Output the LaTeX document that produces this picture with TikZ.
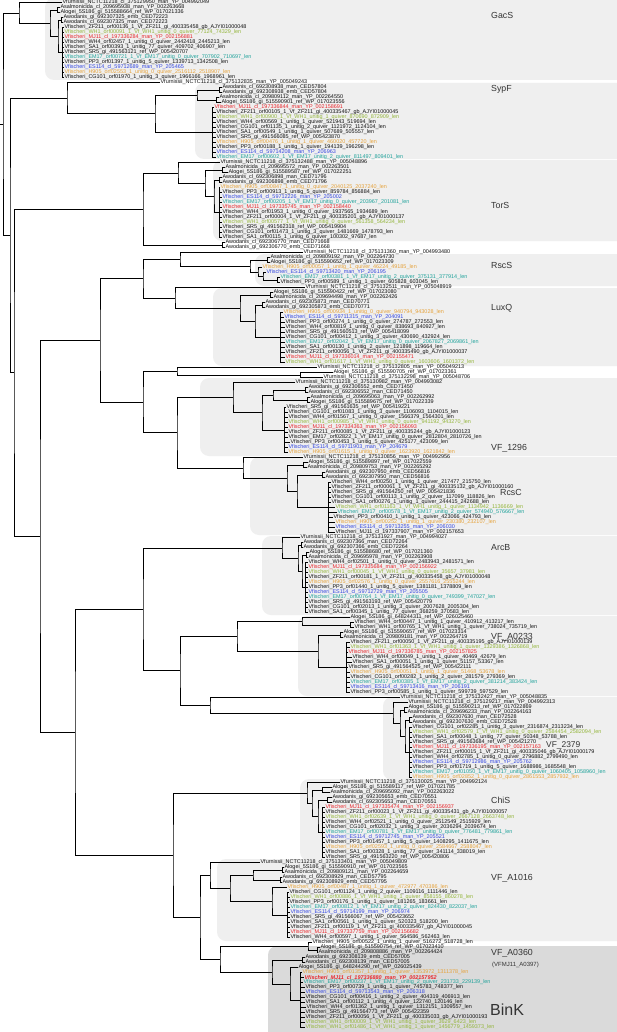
\documentclass[tikz,border=0pt]{standalone}
\usepackage{fontspec}
\usetikzlibrary{calc}
\newfontfamily\lsans{Liberation Sans}
\definecolor{cG}{HTML}{93B53A}
\definecolor{cR}{HTML}{E8262B}
\definecolor{cT}{HTML}{1FA29A}
\definecolor{cB}{HTML}{3346E0}
\definecolor{cO}{HTML}{E6A23A}
\definecolor{cK}{HTML}{111111}
\definecolor{boxl}{HTML}{EFEFEF}
\definecolor{boxd}{HTML}{DADADA}
\definecolor{labc}{HTML}{333333}
\tikzset{
  leaf/.style={anchor=west,inner sep=0.4pt,font=\lsans\fontsize{5.45}{5.6}\selectfont},
  br/.style={line width=0.5pt,draw=black},
  clab/.style={anchor=west,inner sep=0pt,text=labc,font=\lsans\fontsize{8.8}{9}\selectfont},
  cbox/.style={fill=boxl,rounded corners=9pt}
}
\newcommand\lf[4]{\node[leaf,text=#3] (L#1) at (#2,{-2.5-5*#1}) {#4};}
\newcommand\nd[4]{\path let \p1=(#3),\p2=(#4) in coordinate (#1) at (#2,{0.5*(\y1+\y2)});
  \draw[br] (#3) -| (#1) |- (#4);}
\newcommand\grp[4]{\path let \p1=(L#3),\p2=(L#4) in coordinate (#1) at (#2,{0.5*(\y1+\y2)});
  \foreach \i in {#3,...,#4}{\draw[br] (#1) |- (L\i.west);}}
\begin{document}
\catcode`\_=12
\begin{tikzpicture}[x=1pt,y=1pt]
\useasboundingbox (0,0) rectangle (617,-1032);
\clip (0,0) rectangle (617,-1032);
\fill[white] (0,0) rectangle (617,-1032);
% clade boxes
\fill[cbox] (45,2) rectangle (640,-80);
\fill[cbox] (195,-83) rectangle (640,-159);
\fill[cbox] (213,-160) rectangle (640,-241);
\fill[cbox] (255,-254) rectangle (640,-286);
\fill[cbox] (213,-288) rectangle (640,-366);
\fill[cbox] (200,-378) rectangle (640,-456);
\fill[cbox] (250,-457) rectangle (640,-535);
\fill[cbox] (262,-536) rectangle (640,-615);
\fill[cbox] (298,-616) rectangle (640,-696);
\fill[cbox] (383,-697) rectangle (640,-780);
\fill[cbox] (300,-779) rectangle (640,-861);
\fill[cbox] (217,-859) rectangle (640,-941);
\fill[fill=boxd,rounded corners=9pt] (268,-946) rectangle (640,-1040);
% labels
\node[clab] (tGacS) at (491,-15) {GacS};
\node[clab] (tSypF) at (491,-89) {SypF};
\node[clab] (tTorS) at (491,-205) {TorS};
\node[clab] (tRscS) at (491,-265) {RscS};
\node[clab] (tLuxQ) at (491,-308) {LuxQ};
\node[clab] (tV1296) at (491,-448) {VF_1296};
\node[clab] (tRcsC) at (500,-492.5) {RcsC};
\node[clab] (tArcB) at (491,-548) {ArcB};
\node[clab] (tVA0233) at (491,-637.5) {VF_A0233};
\node[clab,font=\lsans\fontsize{8.4}{9}\selectfont] (tV2379) at (546,-745) {VF_2379};
\node[clab] (tChiS) at (491,-800) {ChiS};
\node[clab] (tVA1016) at (491,-878) {VF_A1016};
\node[clab] (tVA0360) at (491,-953) {VF_A0360};
\node[clab,font=\lsans\fontsize{6}{7}\selectfont] (tVFMJ) at (492,-965) {(VFMJ11_A0397)};
\node[clab,font=\lsans\fontsize{16}{18}\selectfont] (tBinK) at (490,-1010) {BinK};
% leaves
\lf{0}{62}{cK}{Vfurnissii_NCTC11218_cl_375129950_man_YP_004992049}
\lf{1}{60}{cK}{Asalmonicida_cl_209695938_man_YP_002263668}
\lf{2}{60}{cK}{Alogei_5S186_gi_515588664_ref_WP_017021336}
\lf{3}{63}{cK}{Awodanis_gi_692307325_emb_CED72223}
\lf{4}{63}{cK}{Awodanis_cl_692307325_man_CED72223}
\lf{5}{64}{cK}{Vfischeri_ZF211_orf00136_1_Vf_ZF211_gi_400335458_gb_AJYI01000048}
\lf{6}{64}{cG}{Vfischeri_WH1_orf00091_1_Vf_WH1_unitig_0_quiver_77124_74329_len}
\lf{7}{64}{cR}{Vfischeri_MJ11_cl_197336284_man_YP_002156881}
\lf{8}{64}{cK}{Vfischeri_WH4_orf02457_1_unitig_0_quiver_2442418_2445213_len}
\lf{9}{64}{cK}{Vfischeri_SA1_orf00393_1_unitig_77_quiver_409702_406907_len}
\lf{10}{64}{cK}{Vfischeri_SR5_gi_491563121_ref_WP_005420707}
\lf{11}{64}{cT}{Vfischeri_EM17_orf00721_1_Vf_EM17_unitig_0_quiver_707902_710697_len}
\lf{12}{64}{cK}{Vfischeri_PP3_orf01397_1_unitig_5_quiver_1339713_1342508_len}
\lf{13}{64}{cB}{Vfischeri_ES114_cl_59712689_man_YP_205465}
\lf{14}{64}{cO}{Vfischeri_H905_orf02553_1_unitig_0_quiver_2516112_2518907_len}
\lf{15}{64}{cK}{Vfischeri_CG101_orf01970_1_unitig_3_quiver_1966166_1968961_len}
\lf{16}{160}{cK}{Vfurnissii_NCTC11218_cl_375132835_man_YP_005049243}
\lf{17}{222}{cK}{Awodanis_cl_692308938_man_CED57804}
\lf{18}{222}{cK}{Awodanis_gi_692308938_emb_CED57804}
\lf{19}{219}{cK}{Asalmonicida_cl_209809112_man_YP_002264550}
\lf{20}{221}{cK}{Alogei_5S186_gi_515590901_ref_WP_017023556}
\lf{21}{214}{cR}{Vfischeri_MJ11_cl_197336844_man_YP_002158691}
\lf{22}{216}{cK}{Vfischeri_ZF211_orf00105_1_Vf_ZF211_gi_400335467_gb_AJYI01000045}
\lf{23}{216}{cG}{Vfischeri_WH1_orf00900_1_Vf_WH1_unitig_1_quiver_870690_872909_len}
\lf{24}{216}{cK}{Vfischeri_WH4_orf00569_1_unitig_1_quiver_521943_519694_len}
\lf{25}{216}{cK}{Vfischeri_CG101_orf01135_1_unitig_2_quiver_1121972_1124104_len}
\lf{26}{216}{cK}{Vfischeri_SA1_orf00549_1_unitig_1_quiver_507689_505557_len}
\lf{27}{216}{cK}{Vfischeri_SR5_gi_491566085_ref_WP_005423870}
\lf{28}{216}{cO}{Vfischeri_H905_orf00476_1_unitig_1_quiver_460020_457720_len}
\lf{29}{216}{cK}{Vfischeri_PP3_orf00188_1_unitig_1_quiver_194139_196298_len}
\lf{30}{216}{cB}{Vfischeri_ES114_cl_59714208_man_YP_206963}
\lf{31}{216}{cT}{Vfischeri_EM17_orf00602_1_Vf_EM17_unitig_2_quiver_811497_809401_len}
\lf{32}{220}{cK}{Vfurnissii_NCTC11218_cl_375132488_man_YP_005048896}
\lf{33}{225}{cK}{Asalmonicida_cl_209695572_man_YP_002263501}
\lf{34}{228}{cK}{Alogei_5S186_gi_515589587_ref_WP_017022251}
\lf{35}{222}{cK}{Awodanis_cl_692306898_man_CED71796}
\lf{36}{222}{cK}{Awodanis_gi_692306898_emb_CED71796}
\lf{37}{220}{cO}{Vfischeri_H905_orf00847_1_unitig_0_quiver_2040125_2037240_len}
\lf{38}{222}{cK}{Vfischeri_PP3_orf00913_1_unitig_5_quiver_859784_856884_len}
\lf{39}{222}{cB}{Vfischeri_ES114_cl_59712226_man_YP_205002}
\lf{40}{222}{cT}{Vfischeri_EM17_orf00205_1_Vf_EM17_unitig_0_quiver_203967_201081_len}
\lf{41}{222}{cR}{Vfischeri_MJ11_cl_197335745_man_YP_002158440}
\lf{42}{222}{cK}{Vfischeri_WH4_orf01953_1_unitig_0_quiver_1937565_1934689_len}
\lf{43}{222}{cK}{Vfischeri_ZF211_orf00004_1_Vf_ZF211_gi_400335201_gb_AJYI01000137}
\lf{44}{222}{cG}{Vfischeri_WH1_orf00577_1_Vf_WH1_unitig_0_quiver_561358_564234_len}
\lf{45}{222}{cK}{Vfischeri_SR5_gi_491562318_ref_WP_005419904}
\lf{46}{222}{cK}{Vfischeri_CG101_orf01473_1_unitig_3_quiver_1481669_1478793_len}
\lf{47}{222}{cK}{Vfischeri_SA1_orf00115_1_unitig_6_quiver_100302_97687_len}
\lf{48}{225}{cK}{Awodanis_cl_692306770_man_CED71668}
\lf{49}{225}{cK}{Awodanis_gi_692306770_emb_CED71668}
\lf{50}{303}{cK}{Vfurnissii_NCTC11218_cl_375131360_man_YP_004993480}
\lf{51}{270}{cK}{Asalmonicida_cl_209809192_man_YP_002264730}
\lf{52}{270}{cK}{Alogei_5S186_gi_515590652_ref_WP_017023309}
\lf{53}{262}{cO}{Vfischeri_H905_orf00057_1_unitig_1_quiver_46224_49185_len}
\lf{54}{266}{cB}{Vfischeri_ES114_cl_59713420_man_YP_206195}
\lf{55}{280}{cT}{Vfischeri_EM17_orf00381_1_Vf_EM17_unitig_2_quiver_375131_377914_len}
\lf{56}{280}{cK}{Vfischeri_PP3_orf00589_1_unitig_1_quiver_605828_603045_len}
\lf{57}{305}{cK}{Vfurnissii_NCTC11218_cl_375132511_man_YP_005048919}
\lf{58}{273}{cK}{Alogei_5S186_gi_515590422_ref_WP_017023080}
\lf{59}{273}{cK}{Asalmonicida_cl_209694498_man_YP_002262426}
\lf{60}{265}{cK}{Awodanis_cl_692305873_man_CED70771}
\lf{61}{265}{cK}{Awodanis_gi_692305873_emb_CED70771}
\lf{62}{283}{cO}{Vfischeri_H905_orf00934_1_unitig_0_quiver_940794_943028_len}
\lf{63}{284}{cB}{Vfischeri_ES114_cl_59711315_man_YP_204091}
\lf{64}{285}{cK}{Vfischeri_PP3_orf00274_1_unitig_0_quiver_274787_272553_len}
\lf{65}{285}{cK}{Vfischeri_WH4_orf00819_1_unitig_0_quiver_838693_840927_len}
\lf{66}{285}{cK}{Vfischeri_SR5_gi_491560513_ref_WP_005418099}
\lf{67}{285}{cK}{Vfischeri_CG101_orf00412_1_unitig_3_quiver_430690_432924_len}
\lf{68}{285}{cT}{Vfischeri_EM17_orf02042_1_Vf_EM17_unitig_0_quiver_2067827_2069861_len}
\lf{69}{285}{cK}{Vfischeri_SA1_orf00130_1_unitig_2_quiver_121898_119664_len}
\lf{70}{285}{cK}{Vfischeri_ZF211_orf00056_1_Vf_ZF211_gi_400335490_gb_AJYI01000037}
\lf{71}{285}{cR}{Vfischeri_MJ11_cl_197336014_man_YP_002155471}
\lf{72}{285}{cG}{Vfischeri_WH1_orf01617_1_Vf_WH1_unitig_0_quiver_1603606_1601372_len}
\lf{73}{317}{cK}{Vfurnissii_NCTC11218_cl_375132805_man_YP_005049213}
\lf{74}{333}{cK}{Alogei_5S186_gi_515590705_ref_WP_017023361}
\lf{75}{323}{cK}{Vfurnissii_NCTC11218_cl_375132298_man_YP_005048706}
\lf{76}{295}{cK}{Vfurnissii_NCTC11218_cl_375130982_man_YP_004993082}
\lf{77}{308}{cK}{Awodanis_gi_692306552_emb_CED71450}
\lf{78}{308}{cK}{Awodanis_cl_692306552_man_CED71450}
\lf{79}{310}{cK}{Asalmonicida_cl_209695063_man_YP_002262992}
\lf{80}{310}{cK}{Alogei_5S186_gi_515589675_ref_WP_017022339}
\lf{81}{286}{cK}{Vfischeri_SR5_gi_491561635_ref_WP_005419221}
\lf{82}{288}{cK}{Vfischeri_CG101_orf01083_1_unitig_3_quiver_1106093_1104015_len}
\lf{83}{288}{cK}{Vfischeri_WH4_orf01567_1_unitig_0_quiver_1566379_1564301_len}
\lf{84}{288}{cG}{Vfischeri_WH1_orf00985_1_Vf_WH1_unitig_0_quiver_941192_943270_len}
\lf{85}{288}{cR}{Vfischeri_MJ11_cl_197334363_man_YP_002156093}
\lf{86}{288}{cK}{Vfischeri_ZF211_orf00085_1_Vf_ZF211_gi_400335244_gb_AJYI01000123}
\lf{87}{288}{cK}{Vfischeri_EM17_orf02822_1_Vf_EM17_unitig_0_quiver_2812804_2810726_len}
\lf{88}{290}{cK}{Vfischeri_PP3_orf00453_1_unitig_5_quiver_425177_423099_len}
\lf{89}{288}{cB}{Vfischeri_ES114_cl_59711903_man_YP_204679}
\lf{90}{288}{cO}{Vfischeri_H905_orf01615_1_unitig_0_quiver_1623920_1621842_len}
\lf{91}{303}{cK}{Vfurnissii_NCTC11218_cl_375130856_man_YP_004992956}
\lf{92}{308}{cK}{Alogei_5S186_gi_515589897_ref_WP_017022559}
\lf{93}{307}{cK}{Asalmonicida_cl_209809753_man_YP_002265292}
\lf{94}{325}{cK}{Awodanis_gi_692307950_emb_CED56816}
\lf{95}{325}{cK}{Awodanis_cl_692307950_man_CED56816}
\lf{96}{331}{cK}{Vfischeri_WH4_orf00250_1_unitig_1_quiver_217477_215750_len}
\lf{97}{331}{cK}{Vfischeri_ZF211_orf00061_1_Vf_ZF211_gi_400335132_gb_AJYI01000160}
\lf{98}{331}{cK}{Vfischeri_SR5_gi_491564250_ref_WP_005421836}
\lf{99}{331}{cK}{Vfischeri_CG101_orf00113_1_unitig_2_quiver_117099_118826_len}
\lf{100}{331}{cK}{Vfischeri_SA1_orf00276_1_unitig_1_quiver_244415_242688_len}
\lf{101}{335}{cG}{Vfischeri_WH1_orf01163_1_Vf_WH1_unitig_1_quiver_1134942_1136669_len}
\lf{102}{337}{cT}{Vfischeri_EM17_orf00578_1_Vf_EM17_unitig_2_quiver_574940_576667_len}
\lf{103}{333}{cK}{Vfischeri_PP3_orf00410_1_unitig_1_quiver_423066_424793_len}
\lf{104}{335}{cO}{Vfischeri_H905_orf00252_1_unitig_1_quiver_230380_232107_len}
\lf{105}{335}{cB}{Vfischeri_ES114_cl_59713255_man_YP_206030}
\lf{106}{335}{cK}{Vfischeri_MJ11_cl_197337907_man_YP_002157653}
\lf{107}{300}{cK}{Vfurnissii_NCTC11218_cl_375131927_man_YP_004994027}
\lf{108}{303}{cK}{Awodanis_cl_692307366_man_CED72264}
\lf{109}{303}{cK}{Awodanis_gi_692307366_emb_CED72264}
\lf{110}{309}{cK}{Alogei_5S186_gi_515588680_ref_WP_017021360}
\lf{111}{308}{cK}{Asalmonicida_cl_209695978_man_YP_002263908}
\lf{112}{308}{cK}{Vfischeri_WH4_orf02501_1_unitig_0_quiver_2483943_2481571_len}
\lf{113}{308}{cR}{Vfischeri_MJ11_cl_197335684_man_YP_002156922}
\lf{114}{308}{cG}{Vfischeri_WH1_orf00045_1_Vf_WH1_unitig_0_quiver_35657_37981_len}
\lf{115}{308}{cK}{Vfischeri_ZF211_orf00181_1_Vf_ZF211_gi_400335458_gb_AJYI01000048}
\lf{116}{308}{cO}{Vfischeri_H905_orf02576_1_unitig_0_quiver_2557616_2555244_len}
\lf{117}{308}{cK}{Vfischeri_PP3_orf01440_1_unitig_5_quiver_1381181_1378809_len}
\lf{118}{308}{cB}{Vfischeri_ES114_cl_59712729_man_YP_205505}
\lf{119}{308}{cT}{Vfischeri_EM17_orf00764_1_Vf_EM17_unitig_0_quiver_749399_747027_len}
\lf{120}{308}{cK}{Vfischeri_SR5_gi_491563193_ref_WP_005420779}
\lf{121}{308}{cK}{Vfischeri_CG101_orf02013_1_unitig_3_quiver_2007628_2005304_len}
\lf{122}{308}{cK}{Vfischeri_SA1_orf00345_1_unitig_77_quiver_368259_370583_len}
\lf{123}{350}{cK}{Alogei_5S186_gi_648244311_ref_WP_026025460}
\lf{124}{354}{cK}{Vfischeri_WH4_orf00447_1_unitig_1_quiver_410912_413217_len}
\lf{125}{354}{cK}{Vfischeri_WH1_orf00765_1_Vf_WH1_unitig_1_quiver_738024_735719_len}
\lf{126}{343}{cK}{Alogei_5S186_gi_515590657_ref_WP_017023314}
\lf{127}{343}{cK}{Asalmonicida_cl_209809181_man_YP_002264719}
\lf{128}{350}{cK}{Vfischeri_ZF211_orf00050_1_Vf_ZF211_gi_400335195_gb_AJYI01000139}
\lf{129}{350}{cG}{Vfischeri_WH1_orf01363_1_Vf_WH1_unitig_1_quiver_1329386_1326868_len}
\lf{130}{348}{cR}{Vfischeri_MJ11_cl_197336785_man_YP_002157825}
\lf{131}{352}{cK}{Vfischeri_WH4_orf00049_1_unitig_1_quiver_40469_42679_len}
\lf{132}{352}{cK}{Vfischeri_SA1_orf00051_1_unitig_1_quiver_51157_53367_len}
\lf{133}{348}{cK}{Vfischeri_SR5_gi_491564525_ref_WP_005422111}
\lf{134}{350}{cO}{Vfischeri_H905_orf00051_1_unitig_1_quiver_51468_53678_len}
\lf{135}{350}{cK}{Vfischeri_CG101_orf00282_1_unitig_2_quiver_281579_279369_len}
\lf{136}{350}{cT}{Vfischeri_EM17_orf00385_1_Vf_EM17_unitig_2_quiver_381214_383424_len}
\lf{137}{350}{cB}{Vfischeri_ES114_cl_59713416_man_YP_206191}
\lf{138}{350}{cK}{Vfischeri_PP3_orf00585_1_unitig_1_quiver_599739_597529_len}
\lf{139}{400}{cK}{Vfurnissii_NCTC11218_cl_375132427_man_YP_005048835}
\lf{140}{408}{cK}{Vfurnissii_NCTC11218_cl_375129217_man_YP_004992313}
\lf{141}{408}{cK}{Alogei_5S186_gi_515590213_ref_WP_017022869}
\lf{142}{407}{cK}{Asalmonicida_cl_209696233_man_YP_002264163}
\lf{143}{412}{cK}{Awodanis_cl_692307630_man_CED72528}
\lf{144}{412}{cK}{Awodanis_gi_692307630_emb_CED72528}
\lf{145}{412}{cK}{Vfischeri_CG101_orf02285_1_unitig_3_quiver_2316874_2313234_len}
\lf{146}{412}{cG}{Vfischeri_WH1_orf02579_1_Vf_WH1_unitig_0_quiver_2584454_2582094_len}
\lf{147}{412}{cK}{Vfischeri_SA1_orf00048_1_unitig_77_quiver_50348_53788_len}
\lf{148}{412}{cK}{Vfischeri_SR5_gi_491563684_ref_WP_005421270}
\lf{149}{412}{cR}{Vfischeri_MJ11_cl_197336195_man_YP_002157163}
\lf{150}{412}{cK}{Vfischeri_ZF211_orf00015_1_Vf_ZF211_gi_400335046_gb_AJYI01000179}
\lf{151}{412}{cK}{Vfischeri_WH4_orf02785_1_unitig_0_quiver_2796882_2799490_len}
\lf{152}{412}{cB}{Vfischeri_ES114_cl_59712986_man_YP_205762}
\lf{153}{412}{cK}{Vfischeri_PP3_orf01719_1_unitig_5_quiver_1688986_1685548_len}
\lf{154}{412}{cT}{Vfischeri_EM17_orf01050_1_Vf_EM17_unitig_0_quiver_1060405_1058960_len}
\lf{155}{412}{cO}{Vfischeri_H905_orf02852_1_unitig_0_quiver_2861553_2857932_len}
\lf{156}{340}{cK}{Vfurnissii_NCTC11218_cl_375130025_man_YP_004992124}
\lf{157}{332}{cK}{Alogei_5S186_gi_515589117_ref_WP_017021785}
\lf{158}{330}{cK}{Asalmonicida_cl_209695092_man_YP_002263022}
\lf{159}{332}{cK}{Awodanis_gi_692305653_emb_CED70551}
\lf{160}{332}{cK}{Awodanis_cl_692305653_man_CED70551}
\lf{161}{325}{cR}{Vfischeri_MJ11_cl_197335474_man_YP_002156937}
\lf{162}{325}{cK}{Vfischeri_ZF211_orf00023_1_Vf_ZF211_gi_400335431_gb_AJYI01000057}
\lf{163}{325}{cG}{Vfischeri_WH1_orf02639_1_Vf_WH1_unitig_0_quiver_2667128_2663748_len}
\lf{164}{325}{cK}{Vfischeri_WH4_orf02521_1_unitig_0_quiver_2512549_2515929_len}
\lf{165}{325}{cK}{Vfischeri_CG101_orf02032_1_unitig_3_quiver_2036294_2039674_len}
\lf{166}{325}{cT}{Vfischeri_EM17_orf00781_1_Vf_EM17_unitig_0_quiver_776481_779861_len}
\lf{167}{325}{cB}{Vfischeri_ES114_cl_59712745_man_YP_205521}
\lf{168}{325}{cK}{Vfischeri_PP3_orf01457_1_unitig_5_quiver_1408295_1411675_len}
\lf{169}{325}{cO}{Vfischeri_H905_orf02593_1_unitig_0_quiver_2584667_2588047_len}
\lf{170}{325}{cK}{Vfischeri_SA1_orf00328_1_unitig_77_quiver_341114_338019_len}
\lf{171}{325}{cK}{Vfischeri_SR5_gi_491563220_ref_WP_005420806}
\lf{172}{260}{cK}{Vfurnissii_NCTC11218_cl_375133401_man_YP_005049809}
\lf{173}{284}{cK}{Alogei_5S186_gi_515590910_ref_WP_017023565}
\lf{174}{284}{cK}{Asalmonicida_cl_209809121_man_YP_002264659}
\lf{175}{282}{cK}{Awodanis_cl_692308929_man_CED57795}
\lf{176}{282}{cK}{Awodanis_gi_692308929_emb_CED57795}
\lf{177}{287}{cO}{Vfischeri_H905_orf00487_1_unitig_1_quiver_472977_470386_len}
\lf{178}{289}{cK}{Vfischeri_CG101_orf01124_1_unitig_2_quiver_1109116_1111446_len}
\lf{179}{290}{cG}{Vfischeri_WH1_orf00886_1_Vf_WH1_unitig_1_quiver_858155_860278_len}
\lf{180}{289}{cK}{Vfischeri_PP3_orf00176_1_unitig_1_quiver_181265_183661_len}
\lf{181}{290}{cT}{Vfischeri_EM17_orf00812_1_Vf_EM17_unitig_2_quiver_824430_822037_len}
\lf{182}{290}{cB}{Vfischeri_ES114_cl_59714199_man_YP_206974}
\lf{183}{290}{cK}{Vfischeri_SR5_gi_491566067_ref_WP_005423652}
\lf{184}{290}{cK}{Vfischeri_SA1_orf00561_1_unitig_1_quiver_520323_518200_len}
\lf{185}{290}{cK}{Vfischeri_ZF211_orf00119_1_Vf_ZF211_gi_400335467_gb_AJYI01000045}
\lf{186}{290}{cR}{Vfischeri_MJ11_cl_197337759_man_YP_002156682}
\lf{187}{290}{cK}{Vfischeri_WH4_orf00597_1_unitig_1_quiver_564586_562463_len}
\lf{188}{312}{cK}{Vfischeri_H905_orf00522_1_unitig_1_quiver_516272_518728_len}
\lf{189}{320}{cK}{Alogei_5S186_gi_515590754_ref_WP_017023410}
\lf{190}{318}{cK}{Asalmonicida_cl_209808886_man_YP_002264424}
\lf{191}{305}{cK}{Awodanis_gi_692308139_emb_CED57005}
\lf{192}{305}{cK}{Awodanis_cl_692308139_man_CED57005}
\lf{193}{298}{cK}{Alogei_5S186_gi_648244290_ref_WP_026025439}
\lf{194}{302}{cO}{Vfischeri_H905_orf01357_1_unitig_1_quiver_1353972_1311378_len}
\lf{195}{304}{cR}{\bfseries\itshape Vfischeri_MJ11_cl_197336880_man_YP_002157952}
\lf{196}{303}{cT}{Vfischeri_EM17_orf00237_1_Vf_EM17_unitig_2_quiver_231733_229139_len}
\lf{197}{305}{cK}{Vfischeri_PP3_orf00739_1_unitig_1_quiver_745783_748377_len}
\lf{198}{305}{cB}{Vfischeri_ES114_cl_59713543_man_YP_206318}
\lf{199}{305}{cK}{Vfischeri_CG101_orf00416_1_unitig_2_quiver_404319_406913_len}
\lf{200}{305}{cK}{Vfischeri_SA1_orf00112_1_unitig_4_quiver_122740_120146_len}
\lf{201}{306}{cK}{Vfischeri_WH4_orf01362_1_unitig_1_quiver_1312151_1309557_len}
\lf{202}{305}{cK}{Vfischeri_SR5_gi_491564773_ref_WP_005422359}
\lf{203}{305}{cK}{Vfischeri_ZF211_orf00056_1_Vf_ZF211_gi_400335033_gb_AJYI01000193}
\lf{204}{305}{cG}{Vfischeri_WH1_orf00009_1_Vf_WH1_unitig_1_quiver_3629_6423_len}
\lf{205}{305}{cG}{Vfischeri_WH1_orf01486_1_Vf_WH1_unitig_1_quiver_1456779_1459373_len}
% ---- tree ----
% GacS
\grp{gP}{57}{1}{2}
\grp{gD}{61}{3}{4}
\grp{gF}{62}{5}{15}
\nd{gC}{58}{gD}{gF}
\nd{gA}{50}{gP}{gC}
\nd{g0}{19}{L0.west}{gA}
% SypF
\grp{sD}{219}{17}{18}
\grp{sP}{216}{19}{20}
\nd{s1}{197}{sD}{sP}
\grp{sF}{212}{21}{31}
\nd{s0}{155}{s1}{sF}
\nd{n16}{67}{L16.west}{s0}
% TorS
\grp{tP}{222}{33}{34}
\grp{tD}{219}{35}{36}
\grp{tF}{219}{37}{47}
\nd{tE}{214}{tD}{tF}
\nd{tB}{205}{tP}{tE}
\nd{tA}{178}{L32.west}{tB}
\grp{tW}{222}{48}{49}
\nd{t0}{143}{tA}{tW}
% RscS
\grp{rP}{267}{51}{52}
\grp{rE}{277}{55}{56}
\nd{rE2}{263}{L54.west}{rE}
\nd{rH}{258}{L53.west}{rE2}
\nd{rF}{250}{rP}{rH}
\nd{r0}{180}{L50.west}{rF}
% LuxQ
\grp{lP}{270}{58}{59}
\grp{lD}{262}{60}{61}
\grp{lF}{280}{62}{72}
\nd{lC}{255}{lD}{lF}
\nd{lB}{240}{lP}{lC}
\nd{l0}{175}{L57.west}{lB}
\nd{rl}{143}{r0}{l0}
% rows 73-75
\grp{m1}{300}{74}{75}
\nd{m0}{177}{L73.west}{m1}
% VF_1296
\grp{vD}{305}{77}{78}
\grp{vP}{307}{79}{80}
\nd{vC}{273}{vD}{vP}
\grp{vF}{284}{81}{90}
\nd{vB}{262}{vC}{vF}
\nd{v0}{233}{L76.west}{vB}
% RcsC
\grp{cP}{303}{92}{93}
\grp{cD}{322}{94}{95}
\grp{cF}{328}{96}{106}
\nd{cC}{297}{cD}{cF}
\nd{cB}{287}{cP}{cC}
\nd{c0}{243}{L91.west}{cB}
\nd{vc}{177}{v0}{c0}
\nd{mvc}{143}{m0}{vc}
% ArcB
\grp{aD}{301}{108}{109}
\grp{aP}{306}{110}{111}
\grp{aF}{305}{112}{122}
\nd{aC}{302}{aP}{aF}
\nd{aB}{298}{aD}{aC}
\nd{a0}{282}{L107.west}{aB}
% VF_A0233
\grp{vaW2}{350}{124}{125}
\nd{vaW}{302}{L123.west}{vaW2}
\grp{vaA}{340}{126}{127}
\grp{vaF}{346}{128}{138}
\nd{vaL}{318}{vaA}{vaF}
\nd{va0}{237}{vaW}{vaL}
% VF_2379
\grp{wP}{404}{141}{142}
\grp{wD}{409}{143}{144}
\grp{wF}{409}{145}{155}
\nd{wC}{405}{wD}{wF}
\nd{wB}{400}{wP}{wC}
\nd{w1}{393}{L140.west}{wB}
\nd{w0}{210}{L139.west}{w1}
\nd{VW}{180}{va0}{w0}
\nd{aV}{143}{a0}{VW}
% ChiS
\grp{hP}{322}{157}{158}
\grp{hD}{327}{159}{160}
\grp{hF}{322}{161}{171}
\nd{hC}{318}{hD}{hF}
\nd{hB}{312}{hP}{hC}
\nd{h0}{307}{L156.west}{hB}
% VF_A1016
\grp{fP}{282}{173}{174}
\grp{fD}{280}{175}{176}
\nd{fC}{253}{fP}{fD}
\grp{fF2}{287}{178}{187}
\nd{fF}{272}{L177.west}{fF2}
\nd{fB}{230}{fC}{fF}
\nd{f0}{210}{L172.west}{fB}
% BinK
\grp{bQ}{317}{189}{190}
\nd{bU}{308}{L188.west}{bQ}
\grp{bD}{302}{191}{192}
\grp{bF}{300}{194}{205}
\nd{bA}{290}{L193.west}{bF}
\nd{bB}{272}{bD}{bA}
\nd{b0}{220}{bU}{bB}
\nd{NA}{200}{f0}{b0}
\nd{hN}{173}{h0}{NA}
% backbone
\nd{K3}{100}{rl}{mvc}
\nd{K4}{75}{aV}{hN}
\nd{K2}{40}{K3}{K4}
\nd{K1}{14}{t0}{K2}
\nd{K0}{10}{n16}{K1}
\nd{R}{3}{g0}{K0}
\coordinate (stub) at ($(R)+(-3,0)$);
\draw[br] (R) -- (stub);
\end{tikzpicture}
\end{document}
